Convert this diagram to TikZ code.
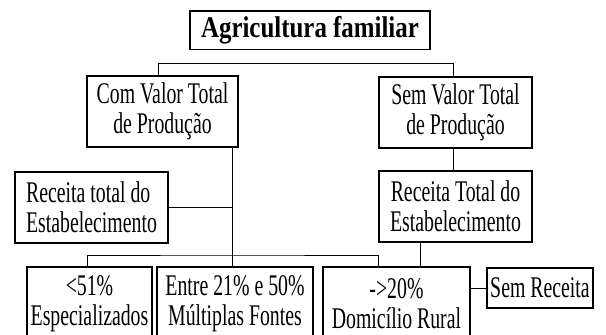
\documentclass[tikz,border=0pt]{standalone}
\usepackage{fontspec}
\setmainfont[FakeStretch=0.66]{Liberation Serif}
\newfontfamily\titlefont[FakeStretch=0.83]{Liberation Serif}

\begin{document}
\begin{tikzpicture}[x=1pt, y=-1pt,
		box/.style={draw, line width=1.6pt, align=center, inner sep=0pt, font=\fontsize{30}{30}\selectfont},
		link/.style={line width=0.8pt}]
			\clip (0, 0) rectangle (606, 335);
			\draw (310, 30) 	node[box, minimum width=240, minimum height=38.6, font=\fontsize{30}{30}\titlefont\bfseries] 	(agri) 	{Agricultura familiar};
			\draw (162.5, 111.5) 	node[box, minimum width=151, minimum height=71] 	(com) 		{Com Valor Total\\de Produção};
			\draw (455.5, 112.5) 	node[box, minimum width=153, minimum height=71] 	(sem) 		{Sem Valor Total\\de Produção};
			\draw (91.5, 207.5) 	node[box, minimum width=153, minimum height=71, align=left] 	(rec_com) 	{Receita total do\\Estabelecimento};
			\draw (455.5, 206.5) 	node[box, minimum width=153, minimum height=71] 	(rec_sem) 	{Receita Total do\\Estabelecimento};
			\draw (89.5, 304) 	node[box, minimum width=125, minimum height=74] 	(esp) 		{<51\%\\Especializados};
			\draw (235, 304) 	node[box, minimum width=156, minimum height=74] 	(mult) 		{Entre 21\% e 50\%\\Múltiplas Fontes};
			\draw (396.5, 304) 	node[box, minimum width=147, minimum height=74] 	(dom) 		{->20\%\\Domicílio Rural};
			\draw (540, 288) 	node[box, minimum width=106, minimum height=40] 	(sem_rec) 	{Sem Receita};

			\coordinate (top_fork) at (310, 63.5);
			\coordinate (low_fork) at (232, 255);

			\draw[link] ([xshift=-4.5pt]com.north) |- (top_fork) -| ([xshift=-2.5pt]sem.north);
			\draw[link] ([xshift=-3pt]mult.north) -- ([xshift=-3pt]com.south -| mult.north);
			\draw[link] (rec_com.east) -- (rec_com.east -| low_fork);
			\draw[link] ([xshift=-2.5pt]sem.south) -- ([xshift=-2.5pt]rec_sem.north);
			\draw[link] ([xshift=-2.5pt]esp.north) |- (low_fork) -| ([xshift=-18.5pt]dom.north);
			\draw[link] ([xshift=-35.5pt]rec_sem.south) -- ([xshift=23.5pt]dom.north);
			\draw[link] (dom.east |- sem_rec.west) -- (sem_rec.west);
		\end{tikzpicture}
\end{document}
